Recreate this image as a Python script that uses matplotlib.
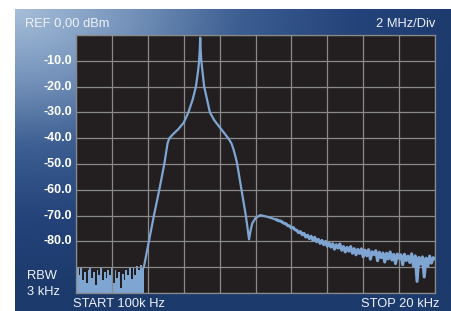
import numpy as np
import matplotlib
matplotlib.use("Agg")
import matplotlib.pyplot as plt
from matplotlib.colors import LinearSegmentedColormap

plt.rcParams['font.family'] = ['Liberation Sans', 'DejaVu Sans']

# ---- data (x in divisions, 2 MHz/Div; y in dBm) ----
y_ticks = [-10, -20, -30, -40, -50, -60, -70, -80]
y_tick_labels = ["-10.0", "-20.0", "-30.0", "-40.0", "-50.0", "-60.0", "-70.0", "-80.0"]

floor_x = [0.0, 0.02, 0.05, 0.1, 0.15, 0.2, 0.25, 0.3, 0.35, 0.4, 0.45, 0.5,
           0.55, 0.6, 0.65, 0.7, 0.75, 0.8, 0.85, 0.9, 0.95, 1.0, 1.05, 1.1,
           1.15, 1.2, 1.25, 1.3, 1.35, 1.4, 1.45, 1.5, 1.55, 1.6, 1.65, 1.7,
           1.75, 1.8, 1.85, 1.89]
floor_db = [-78, -91, -90.5, -93, -90.5, -95, -92, -96, -91, -90, -94, -92,
            -97, -91, -93, -90.5, -95, -92, -94, -91, -93, -90, -96, -91,
            -94, -92, -98, -92.5, -95, -91, -93, -90.5, -94.5, -90, -93, -89.5,
            -91, -89, -90.5, -90]

main_x = [1.89, 2.03, 2.17, 2.32, 2.46, 2.55, 2.6, 2.7, 2.85, 3.0, 3.13, 3.25,
          3.34, 3.40, 3.43, 3.45, 3.46, 3.47, 3.49, 3.53, 3.57, 3.65, 3.73,
          3.85, 3.96, 4.1, 4.24, 4.33, 4.38, 4.44, 4.49, 4.55, 4.61, 4.67,
          4.73, 4.78, 4.82, 4.86, 4.91, 5.0, 5.13, 5.31, 5.45, 5.6]
main_db = [-90, -80, -70, -60, -50, -42, -40, -38.5, -36.5, -34, -30, -25,
           -20, -14, -10, -5, -1, -5, -10, -15, -20, -25, -30,
           -33, -35, -37.5, -40, -42, -44, -47, -50, -55, -60, -65,
           -70, -75, -79.2, -76, -73, -71, -69.8, -70.4, -71, -71.7]

tail_db = [-71.7, -72.0, -72.1, -72.6, -73.0, -73.2, -73.9, -74.0, -74.8, -74.6,
           -75.5, -75.7, -76.6, -76.2, -77.4, -76.9, -78.3, -77.6, -78.9, -78.0,
           -79.6, -78.4, -80.1, -79.2, -80.8, -79.6, -81.3, -80.0, -81.9, -80.6,
           -82.2, -80.9, -83.0, -81.3, -82.6, -81.0, -83.4, -82.0, -84.1, -82.3,
           -83.8, -82.0, -84.6, -82.8, -85.2, -83.1, -84.7, -82.9, -86.0, -83.4,
           -85.6, -83.2, -86.9, -84.0, -85.1, -83.6, -87.5, -84.2, -86.3, -84.5,
           -88.0, -84.6, -86.8, -84.1, -87.2, -85.0, -88.6, -84.9, -86.6, -85.2,
           -89.0, -85.0, -87.4, -85.7, -88.2, -84.8, -89.5, -85.6, -95.5, -86.2,
           -88.8, -86.0, -93.8, -86.5, -89.6, -85.7, -88.4, -86.3, -86.8]
tail_x = np.linspace(5.6, 10.0, len(tail_db))

TRACE = "#7fa5d3"

fig = plt.figure(figsize=(4.52, 3.11), dpi=100)
fig.patch.set_facecolor("white")

# blue panel with gradient from top-left corner
bg = fig.add_axes([15 / 452, 0, 437 / 452, 302 / 311])
gx, gy = np.meshgrid(np.linspace(0, 1, 300), np.linspace(0, 1, 200))
dist = np.sqrt((gx * 1.2) ** 2 + (gy * 1.35) ** 2)
cmap = LinearSegmentedColormap.from_list(
    "panel", ["#a6bed9", "#7593bb", "#3b5d90", "#24437a", "#1c3a6b"])
bg.imshow(np.clip(dist / 1.25, 0, 1), cmap=cmap, aspect="auto",
          extent=(0, 1, 0, 1), origin="upper", vmin=0, vmax=1)
bg.set_axis_off()

ax = fig.add_axes([76 / 452, 1 - 293 / 311, (435 - 76) / 452, (293 - 35) / 311])
ax.set_facecolor("#231f20")
ax.set_xlim(0, 10)
ax.set_ylim(-100, 0)
ax.set_xticks(np.arange(0, 11, 1))
ax.set_yticks(np.arange(-100, 1, 10))
ax.grid(True, color="#8a8a8a", linewidth=0.9)
ax.tick_params(length=0, labelbottom=False, labelleft=False)
for sp in ax.spines.values():
    sp.set_color("#8a8a8a")
    sp.set_linewidth(0.9)

ax.fill_between(floor_x, -100, floor_db, step="mid", color=TRACE, lw=0)
ax.plot([0.0, 0.0], [-100, -78], color=TRACE, lw=1.5)
ax.plot(main_x, main_db, color=TRACE, lw=1.6, solid_capstyle="round")
ax.plot(tail_x, tail_db, color=TRACE, lw=2.2)

# labels on the panel
for v, lab in zip(y_ticks, y_tick_labels):
    fig.text(72 / 452, 1 - (35 - v * 2.58) / 311, lab, ha="right", va="center",
             fontsize=9, fontweight="bold", color="white")

txt = dict(fontsize=9.3, color="#eef2f8")
fig.text(25 / 452, 1 - 24 / 311, "REF 0,00 dBm", ha="left", va="center", **txt)
fig.text(435 / 452, 1 - 24 / 311, "2 MHz/Div", ha="right", va="center", **txt)
fig.text(27 / 452, 1 - 276 / 311, "RBW", ha="left", va="center", **txt)
fig.text(27 / 452, 1 - 292 / 311, "3 kHz", ha="left", va="center", **txt)
fig.text(73 / 452, 1 - 304 / 311, "START 100k Hz", ha="left", va="center", **txt)
fig.text(439 / 452, 1 - 304 / 311, "STOP 20 kHz", ha="right", va="center", **txt)

fig.savefig("out.png", dpi=100)
